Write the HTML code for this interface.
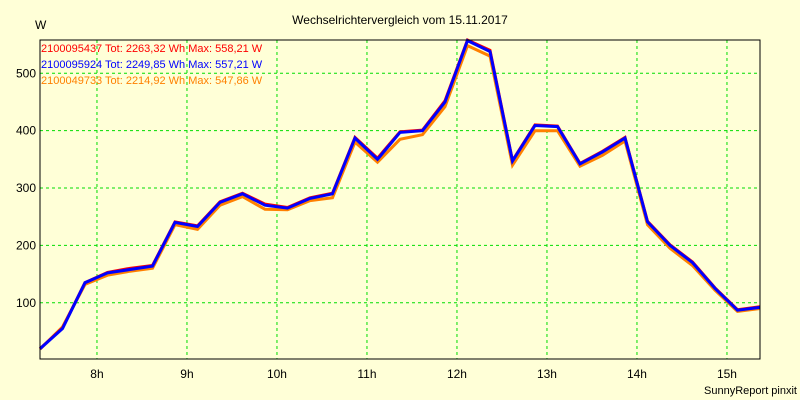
<!DOCTYPE html>
<html><head><meta charset="utf-8"><style>
body{margin:0;background:#ffffd7;}
svg{display:block;font-family:"Liberation Sans",sans-serif;}
</style></head><body>
<svg id="chart" width="800" height="400" xmlns="http://www.w3.org/2000/svg">
<rect x="0" y="0" width="800" height="400" fill="#ffffd7"/>
<text x="400" y="24" font-size="12" text-anchor="middle" fill="#000">Wechselrichtervergleich vom 15.11.2017</text>
<text x="35" y="29" font-size="12" fill="#000">W</text>
<text x="797" y="394" font-size="11" text-anchor="end" fill="#000">SunnyReport pinxit</text>
<g id="grid"></g>
<g id="series"></g>
<rect x="40" y="40" width="720" height="319" fill="none" stroke="#000" stroke-width="1"/>
<g id="legend" font-size="11">
<text x="41" y="52" fill="#ff0000">2100095437 Tot: 2263,32 Wh Max: 558,21 W</text>
<text x="41" y="68" fill="#0000ff">2100095924 Tot: 2249,85 Wh Max: 557,21 W</text>
<text x="41" y="84" fill="#ff8000">2100049733 Tot: 2214,92 Wh Max: 547,86 W</text>
</g>
</svg>
<script>
const times=[7.367,7.617,7.867,8.117,8.367,8.617,8.867,9.117,9.367,9.617,9.867,10.117,10.367,10.617,10.867,11.117,11.367,11.617,11.867,12.117,12.367,12.617,12.867,13.117,13.367,13.617,13.867,14.117,14.367,14.617,14.867,15.117,15.367];
const redVals=[20,56,135,153,160,165,241,234,276,291,272,266,283,291,388,352,398,401,452,558,540,348,410,408,343,364,388,242,201,171,126,88,93];
const blueVals=[20,55,135,152,158,164,240,233,275,290,270,265,282,290,387,350,397,400,450,557,538,347,409,407,342,363,387,241,200,170,125,87,92];
const orangeVals=[19,58,132,148,155,160,236,228,270,285,263,262,278,283,380,345,385,393,442,548,530,340,400,400,338,357,382,236,195,165,122,85,90];
const xTicks=[8,9,10,11,12,13,14,15];
const xTickLabels=["8h","9h","10h","11h","12h","13h","14h","15h"];
const yTicks=[100,200,300,400,500];
const NS="http://www.w3.org/2000/svg";
const X0=40,X1=760,Y0=359,Y1=40,TMIN=7.367,TMAX=15.367,VMIN=2,VMAX=558;
function xs(t){return X0+(t-TMIN)/(TMAX-TMIN)*(X1-X0);}
function ys(v){return Y0-(v-VMIN)/(VMAX-VMIN)*(Y0-Y1);}
const grid=document.getElementById('grid');
const svg=document.getElementById('chart');
xTicks.forEach((t,i)=>{
  const l=document.createElementNS(NS,'line');
  l.setAttribute('x1',xs(t));l.setAttribute('x2',xs(t));l.setAttribute('y1',Y1);l.setAttribute('y2',Y0);
  l.setAttribute('stroke','#00dd00');l.setAttribute('stroke-dasharray','3,3');
  
  
  grid.appendChild(l);
  const tx=document.createElementNS(NS,'text');
  tx.setAttribute('x',xs(t));tx.setAttribute('y',378);tx.setAttribute('font-size','12');tx.setAttribute('text-anchor','middle');
  tx.textContent=xTickLabels[i];
  
  
  svg.appendChild(tx);
});
yTicks.forEach(v=>{
  const l=document.createElementNS(NS,'line');
  l.setAttribute('x1',X0);l.setAttribute('x2',X1);l.setAttribute('y1',ys(v));l.setAttribute('y2',ys(v));
  l.setAttribute('stroke','#00dd00');l.setAttribute('stroke-dasharray','3,3');
  
  
  grid.appendChild(l);
  const tx=document.createElementNS(NS,'text');
  tx.setAttribute('x',36);tx.setAttribute('y',ys(v)+4);tx.setAttribute('font-size','12');tx.setAttribute('text-anchor','end');
  tx.textContent=v;
  
  
  svg.appendChild(tx);
});
const series=document.getElementById('series');
function draw(vals,color,name){
  const p=document.createElementNS(NS,'polyline');
  p.setAttribute('points',vals.map((v,i)=>xs(times[i]).toFixed(1)+','+ys(v).toFixed(1)).join(' '));
  p.setAttribute('fill','none');p.setAttribute('stroke',color);p.setAttribute('stroke-width','3');
  
  
  series.appendChild(p);
}
draw(orangeVals,'#ff8000','series-2100049733');
draw(redVals,'#ff0000','series-2100095437');
draw(blueVals,'#0000ff','series-2100095924');
</script>
</body></html>
